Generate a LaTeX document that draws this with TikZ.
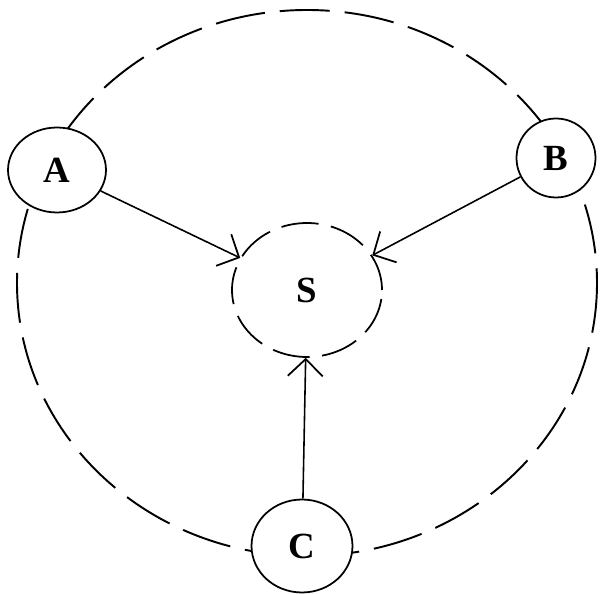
\documentclass[tikz,border=0pt]{standalone}
\usepackage{fontspec}
\setmainfont{Liberation Serif}
\usetikzlibrary{arrows.meta,shapes.geometric}
\tikzset{
    peernode/.style={draw, ellipse, fill=white, line width=1pt, inner sep=0pt,
        font=\fontsize{21}{24}\selectfont\bfseries},
    centrenode/.style={draw, ellipse, dash pattern=on 0.75cm off 0.25cm,
        line width=1pt, inner sep=0pt, minimum width=3cm, minimum height=2.68cm,
        font=\fontsize{21}{24}\selectfont\bfseries},
    ringline/.style={line width=1.1pt, dash pattern=on 1cm off 0.3cm},
    peerarrow/.style={-{Straight Barb[length=3.4mm, width=7mm, line width=1pt]}, line width=0.9pt}
}

\begin{document}
\begin{tikzpicture}[x=0.02cm, y=-0.02cm]
\useasboundingbox (0,0) rectangle (602,594);
\draw[ringline] (307,283) ellipse [x radius=290, y radius=273];
\node[centrenode] (S) at (307,290) {S};
\node[peernode, minimum width=1.96cm, minimum height=1.7cm] (A) at (57,170) {A};
\node[peernode, minimum width=1.58cm, minimum height=1.58cm] (B) at (556,158) {B};
\node[peernode, minimum width=2.02cm, minimum height=1.86cm] (C) at (302,546) {C};
\draw[peerarrow] (A) -- (S);
\draw[peerarrow] (B) -- (S);
\draw[peerarrow] (C) -- (S);
\end{tikzpicture}
\end{document}
